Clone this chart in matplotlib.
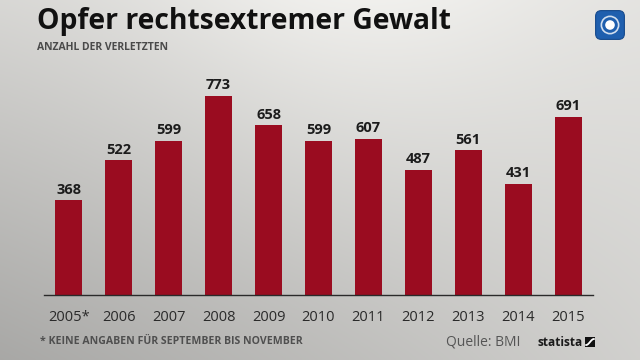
import numpy as np
import matplotlib.pyplot as plt
from matplotlib.patches import FancyBboxPatch, Circle

years = ["2005*", "2006", "2007", "2008", "2009", "2010", "2011", "2012", "2013", "2014", "2015"]
verletzte = [368, 522, 599, 773, 658, 599, 607, 487, 561, 431, 691]

bar_color = "#9a0c20"
text_dark = "#1c1c1c"

fig = plt.figure(figsize=(6.4, 3.6), dpi=100)

# background: grey, darker towards bottom-left, brightest at the top middle
bg = fig.add_axes([0, 0, 1, 1], zorder=0)
yy, xx = np.mgrid[0:1:200j, 0:1:360j]
tl, tr, bl, br = 0.84, 0.88, 0.66, 0.82
shade = (tl * (1 - xx) * (1 - yy) + tr * xx * (1 - yy)
         + bl * (1 - xx) * yy + br * xx * yy)
shade += 0.08 * np.exp(-((xx - 0.55) / 0.35) ** 2) * (1 - yy) ** 1.5
img = np.dstack([shade, shade * 0.997, shade * 0.985])
bg.imshow(np.clip(img, 0, 1), aspect="auto", extent=[0, 1, 0, 1], origin="upper")
bg.set_axis_off()

# main bar chart
ax = fig.add_axes([44 / 640, 65 / 360, 549 / 640, 235 / 360], zorder=1)
ax.patch.set_alpha(0)
x = np.arange(len(years))
ax.bar(x, verletzte, width=0.54, color=bar_color, zorder=2)
for xi, v in zip(x, verletzte):
    ax.text(xi, v + 14, str(v), ha="center", va="bottom", fontsize=10.5,
            fontweight="bold", color=text_dark, family="Open Sans")

ax.set_xlim(-0.5, len(years) - 0.5)
ax.set_ylim(0, 912)
for s in ["top", "right", "left"]:
    ax.spines[s].set_visible(False)
ax.spines["bottom"].set_color("#2a2a2a")
ax.spines["bottom"].set_linewidth(1.0)
ax.set_yticks([])
ax.set_xticks(x)
ax.set_xticklabels(years, fontsize=10.5, color="#2a2a2a", family="Open Sans")
ax.tick_params(axis="x", length=0, pad=11)

# titles
fig.text(37 / 640, 1 - 21 / 360, "Opfer rechtsextremer Gewalt", fontsize=20.3,
         fontweight="bold", color="#111111", family="Open Sans", va="center")
fig.text(37 / 640, 1 - 48 / 360, "ANZAHL DER VERLETZTEN", fontsize=7.5,
         fontweight="bold", color="#4a4a4a", family="Open Sans", va="center")

# footer
fig.text(40 / 640, 1 - 342 / 360, "* KEINE ANGABEN FÜR SEPTEMBER BIS NOVEMBER", fontsize=7.6,
         fontweight="bold", color="#4f4f4f", family="Open Sans", va="center")
fig.text(520 / 640, 1 - 342 / 360, "Quelle: BMI", fontsize=10, color="#555555",
         family="Open Sans", va="center", ha="right")
fig.text(537 / 640, 1 - 342 / 360, "statista", fontsize=8.6, fontweight="bold",
         color="#1a1a1a", family="Open Sans", va="center")

# statista icon
st = fig.add_axes([585 / 640, 1 - 347 / 360, 10 / 640, 10 / 360], zorder=2)
st.set_xlim(0, 1)
st.set_ylim(0, 1)
st.set_axis_off()
st.add_patch(FancyBboxPatch((0, 0), 1, 1, boxstyle="square,pad=0", fc="#111111", ec="none"))
t = np.linspace(0, 1, 30)
st.plot(0.12 + 0.76 * t, 0.2 + 0.6 * (3 * t ** 2 - 2 * t ** 3), color="white", lw=1.3)

# logo
logo = fig.add_axes([594 / 640, 1 - 41 / 360, 32 / 640, 32 / 360], zorder=2)
logo.set_xlim(0, 1)
logo.set_ylim(0, 1)
logo.set_axis_off()
logo.add_patch(FancyBboxPatch((0.05, 0.05), 0.9, 0.9, boxstyle="round,pad=0,rounding_size=0.18",
                              fc="#1f5fae", ec="#174a8c", lw=0.8))
logo.add_patch(Circle((0.5, 0.5), 0.27, fc="none", ec="white", lw=1.2, alpha=0.8))
logo.add_patch(Circle((0.5, 0.5), 0.15, fc="white", ec="none"))

fig.savefig("out.png", dpi=100)
